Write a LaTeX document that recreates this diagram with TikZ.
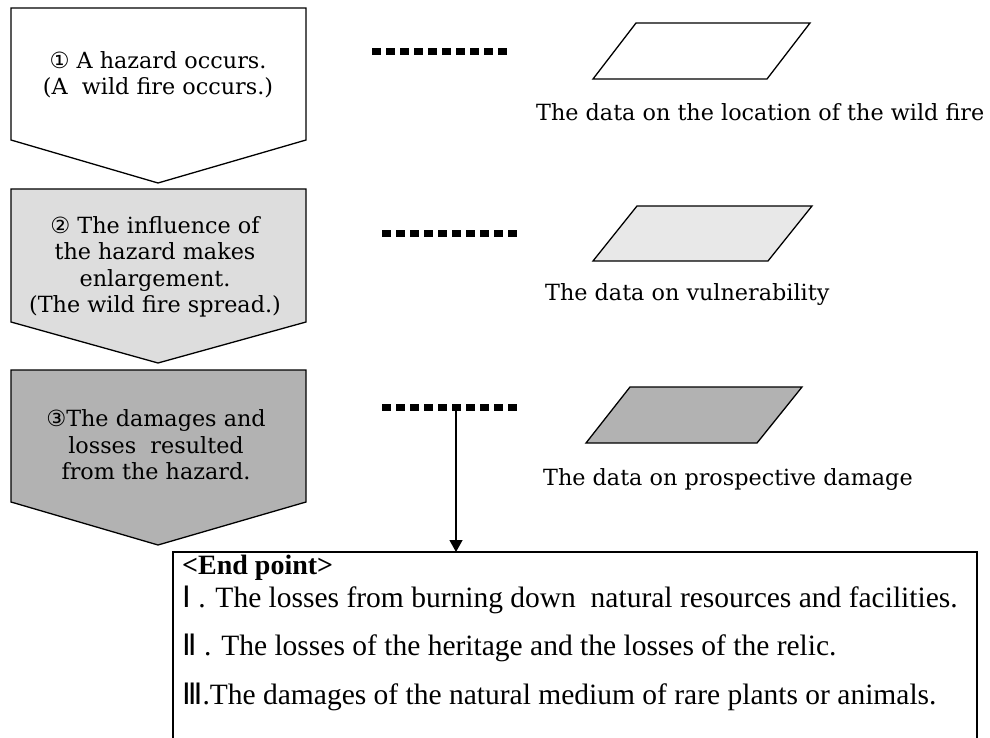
\documentclass[tikz,border=0pt]{standalone}
\usepackage{fontspec}
\setmainfont{DejaVu Serif}
\newfontfamily\symfont{DejaVu Sans}
\newfontfamily\boxfont{Liberation Serif}
\usetikzlibrary{arrows.meta}
\definecolor{lightfill}{HTML}{DDDDDD}
\definecolor{lightpara}{HTML}{E8E8E8}
\definecolor{darkfill}{HTML}{B2B2B2}
\tikzset{
  pent/.style={draw=black,line width=1.3pt,line join=miter},
  para/.style={draw=black,line width=1.3pt,line join=miter},
  dotrow/.style={line width=7pt,dash pattern=on 9pt off 5pt},
  steptext/.style={font=\fontsize{22.3}{26.5}\selectfont,align=center,inner sep=0pt},
  datalabel/.style={font=\fontsize{22.3}{26}\selectfont,anchor=west,inner sep=0pt},
  boxline/.style={font=\boxfont\fontsize{29.5}{32}\selectfont,anchor=west,inner sep=0pt},
  arr/.style={line width=1.3pt,-{Triangle[width=13pt,length=12pt]}}
}
\begin{document}
\begin{tikzpicture}[x=1pt,y=-1pt]
\useasboundingbox (0,0) rectangle (990,738);
% pentagons
\draw[pent,fill=white] (11,8) -- (306,8) -- (306,140) -- (158,183) -- (11,140) -- cycle;
\draw[pent,fill=lightfill] (11,189) -- (306,189) -- (306,322) -- (158,363) -- (11,322) -- cycle;
\draw[pent,fill=darkfill] (11,370) -- (306,370) -- (306,502) -- (158,545) -- (11,502) -- cycle;
\node[steptext] (s1) at (158,75) {{\symfont ①} A hazard occurs.\\(A\ \ wild fire occurs.)};
\node[steptext] (s2) at (155,267) {{\symfont ②} The influence of\\the hazard makes\\enlargement.\\(The wild fire spread.)};
\node[steptext] (s3) at (156,445) {{\symfont ③}The damages and\\losses\ \ resulted\\from the hazard.};
% dotted rows
\coordinate (d1a) at (372,52); \coordinate (d1b) at (507,52);
\coordinate (d2a) at (382,233); \coordinate (d2b) at (517,233);
\coordinate (d3a) at (382,407); \coordinate (d3b) at (517,407);
\draw[dotrow] (d1a) -- (d1b);
\draw[dotrow] (d2a) -- (d2b);
\draw[dotrow] (d3a) -- (d3b);
% parallelograms
\draw[para,fill=white] (593,79) -- (636,23) -- (810,23) -- (767,79) -- cycle;
\draw[para,fill=lightpara] (593,261) -- (637,206) -- (812,206) -- (768,261) -- cycle;
\draw[para,fill=darkfill] (586,443) -- (630,387) -- (802,387) -- (757,443) -- cycle;
\node[datalabel] (l1) at (536,112) {The data on the location of the wild fire};
\node[datalabel] (l2) at (545,295) {The data on vulnerability};
\node[datalabel] (l3) at (543,480) {The data on prospective damage};
% end point box
\draw[line width=2.5pt] (173,745) -- (173,552) -- (977,552) -- (977,745);
\coordinate (boxtop) at (456,552);
\coordinate (d3m) at (456,407);
\draw[arr] (d3m) -- (boxtop);
\node[boxline,font=\boxfont\bfseries\fontsize{28}{30}\selectfont] (ep) at (182,568) {<End point>};
\node[boxline] (e1) at (182,600) {{\symfont Ⅰ} . The losses from burning down\ \ natural resources and facilities.};
\node[boxline] (e2) at (182,648) {{\symfont Ⅱ} . The losses of the heritage and the losses of the relic.};
\node[boxline] (e3) at (182,697) {{\symfont Ⅲ}.The damages of the natural medium of rare plants or animals.};
\end{tikzpicture}
\end{document}
